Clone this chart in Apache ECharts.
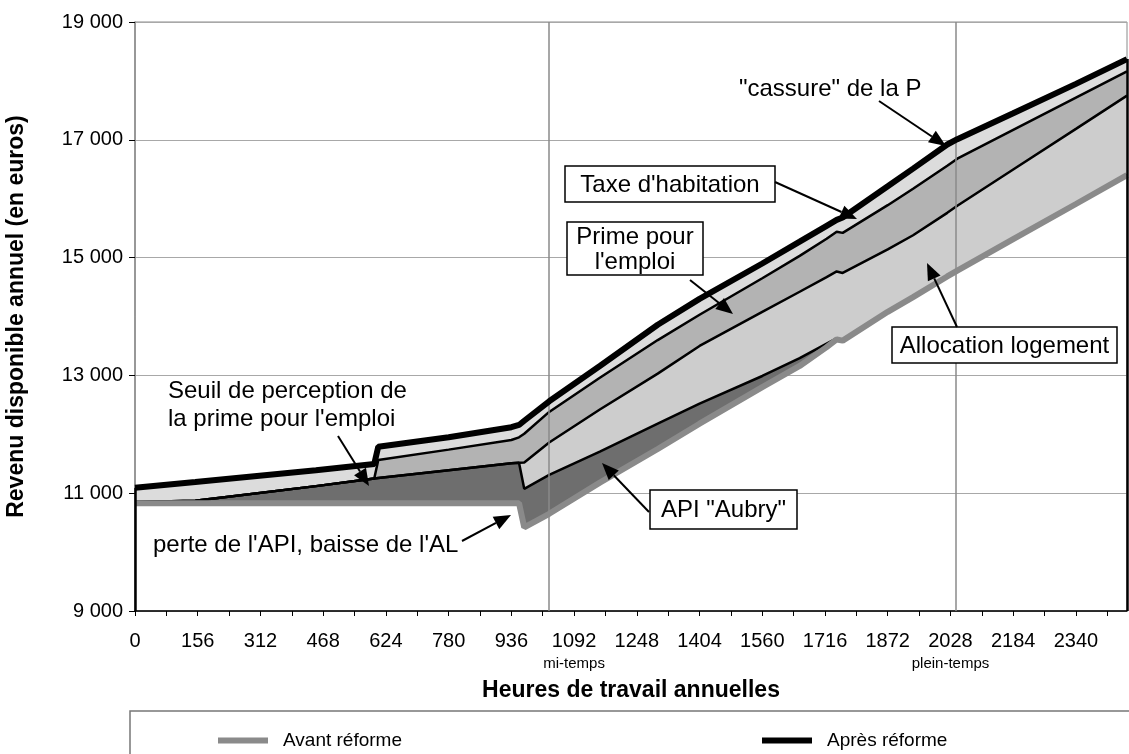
<!DOCTYPE html>
<html lang="fr">
<head>
<meta charset="utf-8" />
<title>Revenu disponible avant / après réforme</title>
<style>
  html, body { margin: 0; padding: 0; background: #fff; }
  #chart { width: 1129px; height: 754px; }
</style>
</head>
<body>
<div id="chart"></div>
<script src="https://cdn.jsdelivr.net/npm/echarts@6/dist/echarts.min.js"></script>
<script>
// heures de travail annuelles (points de lecture communs à toutes les courbes)
var hours = [0, 150, 450, 595, 605, 780, 936, 955, 968, 1030, 1156, 1300, 1404, 1560, 1653, 1720, 1745, 1760, 1872, 1935, 2020, 2045, 2184, 2340, 2467];

// revenu disponible avant réforme (trait gris)
var avant = [10830, 10830, 10830, 10830, 10830, 10830, 10830, 10830, 10420, 10650, 11180, 11750, 12180, 12800, 13160, 13480, 13610, 13590, 14080, 14330, 14680, 14780, 15315, 15910, 16400];
// + API "Aubry"
var apiTop = [10850, 10870, 11120, 11250, 11258, 11390, 11507, 11517, 11075, 11310, 11704, 12180, 12520, 12990, 13292, 13540, 13630, 13590, 14080, 14330, 14680, 14780, 15315, 15910, 16400];
// + allocation logement
var alTop = [10850, 10870, 11120, 11250, 11258, 11390, 11507, 11517, 11520, 11860, 12420, 13030, 13500, 14080, 14420, 14670, 14765, 14740, 15140, 15380, 15760, 15880, 16495, 17185, 17750];
// + prime pour l'emploi
var ppeTop = [10850, 10870, 11120, 11250, 11563, 11740, 11903, 11949, 12010, 12380, 12960, 13600, 14030, 14650, 15030, 15320, 15440, 15420, 15890, 16170, 16560, 16680, 17170, 17715, 18160];
// + taxe d'habitation = revenu après réforme (trait noir)
var apres = [11092, 11190, 11390, 11495, 11790, 11950, 12120, 12158, 12230, 12560, 13160, 13860, 14300, 14900, 15270, 15540, 15640, 15680, 16210, 16510, 16920, 17010, 17450, 17950, 18370];

var refHours = [1030, 2041];          // traits verticaux mi-temps / plein-temps
var refNames = {1092: 'mi-temps', 2028: 'plein-temps'};
var X_MAX = 2467, Y_MIN = 9000, Y_MAX = 19000;

var FONT = '"Liberation Sans", Arial, Helvetica, sans-serif';

// bandes : [bas, haut, couleur]
var bands = [
	[avant, apiTop, '#6e6e6e'],   // API "Aubry"
	[apiTop, alTop, '#cdcdcd'],   // allocation logement
	[alTop, ppeTop, '#b3b3b3'],   // prime pour l'emploi
	[ppeTop, apres, '#dcdcdc']    // taxe d'habitation
];

function pairs(vals) {
	return hours.map(function (h, i) { return [h, vals[i]]; });
}
function fmtK(v) {
	return String(v).replace(/\B(?=(\d{3})+(?!\d))/g, ' ');
}

// flèche noire avec pointe pleine
function arrow(x1, y1, x2, y2) {
	var dx = x2 - x1, dy = y2 - y1, len = Math.sqrt(dx * dx + dy * dy);
	var ux = dx / len, uy = dy / len, L = 17, W = 7;
	var bx = x2 - ux * L, by = y2 - uy * L;
	return [
		{ type: 'line', shape: { x1: x1, y1: y1, x2: bx, y2: by }, style: { stroke: '#000', lineWidth: 2 }, z: 100 },
		{ type: 'polygon', shape: { points: [[x2, y2], [bx - uy * W, by + ux * W], [bx + uy * W, by - ux * W]] }, style: { fill: '#000' }, z: 100 }
	];
}
function box(x, y, w, h, txt) {
	return [
		{ type: 'rect', shape: { x: x, y: y, width: w, height: h }, style: { fill: '#fff', stroke: '#000', lineWidth: 1.5 }, z: 100 },
		{ type: 'text', x: x + w / 2, y: y + h / 2 + 1, style: { text: txt, font: '24px ' + FONT, fill: '#000', align: 'center', verticalAlign: 'middle', lineHeight: 25 }, z: 101 }
	];
}
function label(x, y, txt) {
	return { type: 'text', x: x, y: y, style: { text: txt, font: '24px ' + FONT, fill: '#000', verticalAlign: 'middle', lineHeight: 28 }, z: 101 };
}

var chart = echarts.init(document.getElementById('chart'));

var graphics = [].concat(
	label(739, 89, '"cassure" de la P'),
	arrow(879, 101, 946, 146),
	box(565, 166, 210, 36, "Taxe d'habitation"),
	arrow(775, 182, 857, 219),
	box(567, 222, 136, 53, "Prime pour\nl'emploi"),
	arrow(690, 280, 733, 314),
	box(892, 327, 225, 36, 'Allocation logement'),
	arrow(957, 327, 927, 263),
	box(650, 490, 147, 39, 'API "Aubry"'),
	arrow(649, 512, 602, 463),
	label(168, 405, 'Seuil de perception de\nla prime pour l\'emploi'),
	arrow(338, 436, 369, 486),
	label(153, 545, "perte de l'API, baisse de l'AL"),
	arrow(462, 541, 511, 515),
	// cadre de la légende
	{ type: 'rect', shape: { x: 130, y: 711, width: 1010, height: 70 }, style: { fill: 'none', stroke: '#777', lineWidth: 1.5 }, z: 1 }
);

function thin(name, vals) {
	return { name: name, type: 'line', data: pairs(vals), showSymbol: false, silent: true,
		lineStyle: { color: '#000', width: 2.5 }, color: '#000', z: 3 };
}

var option = {
	animation: false,
	textStyle: { fontFamily: FONT },
	grid: { left: 135, right: 2, top: 22, bottom: 143, containLabel: false, outerBoundsMode: 'none',
		show: true, borderColor: '#8a8a8a', borderWidth: 1 },
	legend: [
		{ data: ['Avant réforme'], left: 218, top: 731, padding: 0, icon: 'rect', itemWidth: 50, itemHeight: 6,
		  textStyle: { fontSize: 19, color: '#000', padding: [0, 0, 0, 10] } },
		{ data: ['Après réforme'], left: 762, top: 731, padding: 0, icon: 'rect', itemWidth: 50, itemHeight: 6,
		  textStyle: { fontSize: 19, color: '#000', padding: [0, 0, 0, 10] } }
	],
	xAxis: {
		type: 'value', min: 0, max: X_MAX, interval: 78,
		name: 'Heures de travail annuelles', nameLocation: 'middle', nameGap: 67,
		nameTextStyle: { fontSize: 23, fontWeight: 'bold', color: '#000' },
		axisLine: { lineStyle: { color: '#000', width: 1.5 } },
		axisTick: { length: 5, lineStyle: { color: '#000' } },
		axisLabel: {
			margin: 19, fontSize: 20, color: '#000', lineHeight: 23, showMaxLabel: false,
			formatter: function (v) {
				if (v % 156 !== 0) return '';
				return refNames[v] ? v + '\n{s|' + refNames[v] + '}' : String(v);
			},
			rich: { s: { fontSize: 15, lineHeight: 21, color: '#000' } }
		},
		splitLine: { show: false }
	},
	yAxis: {
		type: 'value', min: Y_MIN, max: Y_MAX, interval: 2000,
		name: 'Revenu disponible annuel (en euros)', nameLocation: 'middle', nameGap: 107,
		nameTextStyle: { fontSize: 23, fontWeight: 'bold', color: '#000' },
		axisLine: { show: true, lineStyle: { color: '#8a8a8a', width: 1.5 } },
		axisTick: { show: true, length: 6, lineStyle: { color: '#000' } },
		axisLabel: { margin: 12, fontSize: 20, color: '#000', formatter: fmtK },
		splitLine: { lineStyle: { color: '#a8a8a8', width: 1 } }
	},
	graphic: graphics,
	series: [
		{
			name: 'bandes', type: 'custom', silent: true, z: 2, clip: true,
			data: bands.map(function (b, i) { return [i]; }),
			renderItem: function (params, api) {
				var b = bands[params.dataIndex];
				var pts = [];
				hours.forEach(function (h, i) { pts.push(api.coord([h, b[1][i]])); });
				for (var i = hours.length - 1; i >= 0; i--) pts.push(api.coord([hours[i], b[0][i]]));
				return { type: 'polygon', shape: { points: pts }, style: { fill: b[2], stroke: null } };
			}
		},
		thin('api', apiTop),
		thin('al', alTop),
		thin('ppe', ppeTop),
		{ name: 'Avant réforme', type: 'line', data: pairs(avant), showSymbol: false,
		  color: '#8a8a8a', lineStyle: { color: '#8a8a8a', width: 6 }, z: 4 },
		{ name: 'Après réforme', type: 'line', data: pairs(apres), showSymbol: false,
		  color: '#000', lineStyle: { color: '#000', width: 6 }, z: 5,
		  markLine: {
			silent: true, symbol: 'none', label: { show: false },
			data: [
				[{ coord: [refHours[0], Y_MIN], lineStyle: { color: '#8a8a8a', width: 1.5, type: 'solid' } }, { coord: [refHours[0], Y_MAX] }],
				[{ coord: [refHours[1], Y_MIN], lineStyle: { color: '#8a8a8a', width: 1.5, type: 'solid' } }, { coord: [refHours[1], Y_MAX] }],
				[{ coord: [hours[0], Y_MIN], lineStyle: { color: '#000', width: 2.5, type: 'solid' } }, { coord: [hours[0], apres[0]] }],
				[{ coord: [hours[hours.length - 1], Y_MIN], lineStyle: { color: '#000', width: 2.5, type: 'solid' } }, { coord: [hours[hours.length - 1], apres[apres.length - 1]] }]
			]
		  }
		}
	]
};
chart.setOption(option);
</script>
</body>
</html>
